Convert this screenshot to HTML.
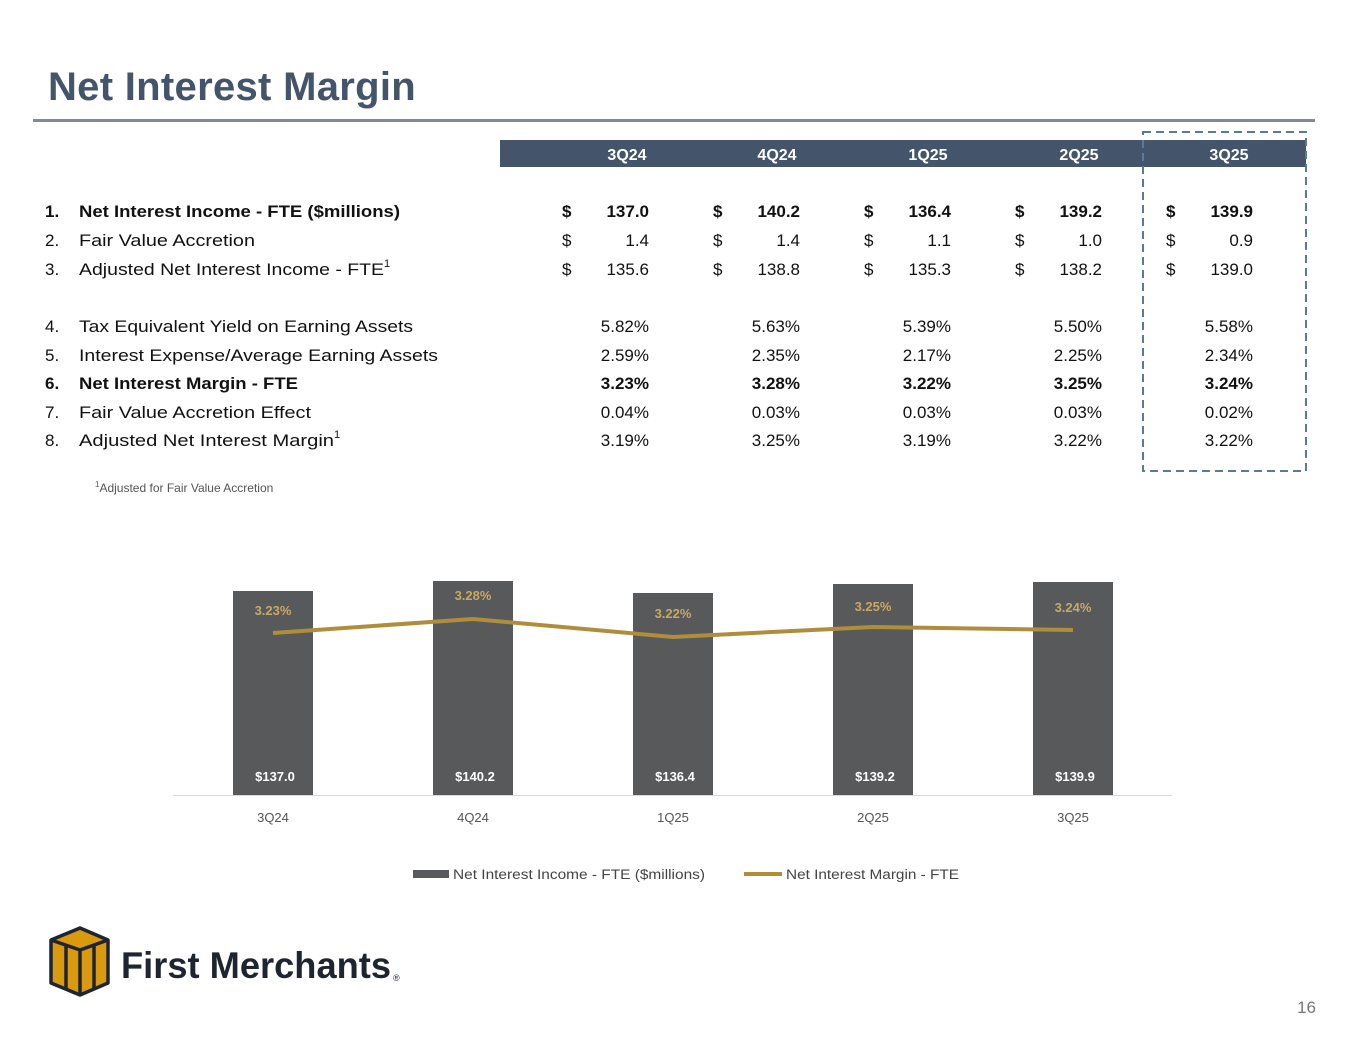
<!DOCTYPE html><html><head><style>
body{margin:0;width:1365px;height:1055px;background:#fff;position:relative;font-family:"Liberation Sans",sans-serif;overflow:hidden}
.a{position:absolute;white-space:nowrap}
.b{font-weight:bold}
</style></head><body>
<div class="a b" style="left:48px;top:65px;font-size:40px;color:#44546a;letter-spacing:0.3px">Net Interest Margin</div>
<div class="a" style="left:33px;top:119px;width:1282px;height:3px;background:#7f8a96"></div>
<div class="a" style="left:500px;top:140px;width:806px;height:27px;background:#44546a"></div>
<svg class="a" style="left:0;top:0" width="1365" height="1055">
<rect x="1143" y="132" width="163" height="339" fill="none" stroke="#5a7a99" stroke-width="2" stroke-dasharray="8,5"/>
<g font-family="Liberation Sans" font-weight="bold" font-size="16" fill="#fff" text-anchor="middle">
<text x="627" y="160">3Q24</text><text x="777" y="160">4Q24</text><text x="928" y="160">1Q25</text><text x="1079" y="160">2Q25</text><text x="1229" y="160">3Q25</text></g>
<g font-family="Liberation Sans" font-size="17" fill="#111">
<g font-weight="bold"><text x="45" y="217">1.</text><text x="79" y="217" textLength="321" lengthAdjust="spacingAndGlyphs">Net Interest Income - FTE ($millions)</text></g>
<text x="45" y="246">2.</text><text x="79" y="246" textLength="176" lengthAdjust="spacingAndGlyphs">Fair Value Accretion</text>
<text x="45" y="275">3.</text><text x="79" y="275"><tspan textLength="305" lengthAdjust="spacingAndGlyphs">Adjusted Net Interest Income - FTE</tspan><tspan font-size="11" dy="-8">1</tspan></text>
<text x="45" y="332">4.</text><text x="79" y="332" textLength="334" lengthAdjust="spacingAndGlyphs">Tax Equivalent Yield on Earning Assets</text>
<text x="45" y="361">5.</text><text x="79" y="361" textLength="359" lengthAdjust="spacingAndGlyphs">Interest Expense/Average Earning Assets</text>
<g font-weight="bold"><text x="45" y="389">6.</text><text x="79" y="389" textLength="219" lengthAdjust="spacingAndGlyphs">Net Interest Margin - FTE</text></g>
<text x="45" y="418">7.</text><text x="79" y="418" textLength="232" lengthAdjust="spacingAndGlyphs">Fair Value Accretion Effect</text>
<text x="45" y="446">8.</text><text x="79" y="446"><tspan textLength="255" lengthAdjust="spacingAndGlyphs">Adjusted Net Interest Margin</tspan><tspan font-size="11" dy="-8">1</tspan></text>
<g text-anchor="end">
<g font-weight="bold"><text x="649" y="217">137.0</text><text x="800" y="217">140.2</text><text x="951" y="217">136.4</text><text x="1102" y="217">139.2</text><text x="1253" y="217">139.9</text>
<text x="649" y="389">3.23%</text><text x="800" y="389">3.28%</text><text x="951" y="389">3.22%</text><text x="1102" y="389">3.25%</text><text x="1253" y="389">3.24%</text></g>
<text x="649" y="246">1.4</text><text x="800" y="246">1.4</text><text x="951" y="246">1.1</text><text x="1102" y="246">1.0</text><text x="1253" y="246">0.9</text>
<text x="649" y="275">135.6</text><text x="800" y="275">138.8</text><text x="951" y="275">135.3</text><text x="1102" y="275">138.2</text><text x="1253" y="275">139.0</text>
<text x="649" y="332">5.82%</text><text x="800" y="332">5.63%</text><text x="951" y="332">5.39%</text><text x="1102" y="332">5.50%</text><text x="1253" y="332">5.58%</text>
<text x="649" y="361">2.59%</text><text x="800" y="361">2.35%</text><text x="951" y="361">2.17%</text><text x="1102" y="361">2.25%</text><text x="1253" y="361">2.34%</text>
<text x="649" y="418">0.04%</text><text x="800" y="418">0.03%</text><text x="951" y="418">0.03%</text><text x="1102" y="418">0.03%</text><text x="1253" y="418">0.02%</text>
<text x="649" y="446">3.19%</text><text x="800" y="446">3.25%</text><text x="951" y="446">3.19%</text><text x="1102" y="446">3.22%</text><text x="1253" y="446">3.22%</text>
</g>
<g font-weight="bold"><text x="562" y="217">$</text><text x="713" y="217">$</text><text x="864" y="217">$</text><text x="1015" y="217">$</text><text x="1166" y="217">$</text></g>
<text x="562" y="246">$</text><text x="713" y="246">$</text><text x="864" y="246">$</text><text x="1015" y="246">$</text><text x="1166" y="246">$</text>
<text x="562" y="275">$</text><text x="713" y="275">$</text><text x="864" y="275">$</text><text x="1015" y="275">$</text><text x="1166" y="275">$</text>
</g>
<text x="95" y="492" font-family="Liberation Sans" font-size="12" fill="#555"><tspan font-size="8" dy="-5">1</tspan><tspan dy="5">Adjusted for Fair Value Accretion</tspan></text>
<g fill="#58595b"><rect x="233" y="591" width="80" height="204"/><rect x="433" y="581" width="80" height="214"/><rect x="633" y="593" width="80" height="202"/><rect x="833" y="584" width="80" height="211"/><rect x="1033" y="582" width="80" height="213"/></g>
<line x1="173" y1="795.5" x2="1172" y2="795.5" stroke="#d9d9d9"/>
<polyline points="273,633 473,619 673,637 873,627 1073,630" fill="none" stroke="#b08d3b" stroke-width="4"/>
<g font-family="Liberation Sans" font-weight="bold" font-size="13" fill="#c9a862" text-anchor="middle">
<text x="273" y="615">3.23%</text><text x="473" y="600">3.28%</text><text x="673" y="618">3.22%</text><text x="873" y="611">3.25%</text><text x="1073" y="612">3.24%</text></g>
<g font-family="Liberation Sans" font-weight="bold" font-size="13" fill="#fff" text-anchor="middle">
<text x="275" y="781">$137.0</text><text x="475" y="781">$140.2</text><text x="675" y="781">$136.4</text><text x="875" y="781">$139.2</text><text x="1075" y="781">$139.9</text></g>
<g font-family="Liberation Sans" font-size="13" fill="#555" text-anchor="middle">
<text x="273" y="822">3Q24</text><text x="473" y="822">4Q24</text><text x="673" y="822">1Q25</text><text x="873" y="822">2Q25</text><text x="1073" y="822">3Q25</text></g>
<rect x="413" y="870" width="36" height="8" fill="#58595b"/>
<line x1="744" y1="874" x2="782" y2="874" stroke="#b08d3b" stroke-width="4"/>
<g font-family="Liberation Sans" font-size="13.5" fill="#444"><text x="453" y="879" textLength="252" lengthAdjust="spacingAndGlyphs">Net Interest Income - FTE ($millions)</text><text x="786" y="879" textLength="173" lengthAdjust="spacingAndGlyphs">Net Interest Margin - FTE</text></g>
<g stroke="#1e2530" stroke-width="3.5" stroke-linejoin="round">
<polygon points="51,940 80,928 108,940 108,983 80,995 51,983" fill="#d99a10"/>
<polyline points="51,940 80,950 108,940" fill="none"/>
<line x1="66" y1="945" x2="66" y2="988"/><line x1="80" y1="950" x2="80" y2="995"/><line x1="94" y1="945" x2="94" y2="988"/>
</g>
<text x="121" y="978" font-family="Liberation Sans" font-weight="bold" font-size="37" fill="#1e2530" textLength="270" lengthAdjust="spacingAndGlyphs">First Merchants</text>
<text x="393" y="981" font-family="Liberation Sans" font-size="9" fill="#1e2530">®</text>
<text x="1316" y="1013" font-family="Liberation Sans" font-size="17" fill="#777" text-anchor="end">16</text>
</svg>
</body></html>
